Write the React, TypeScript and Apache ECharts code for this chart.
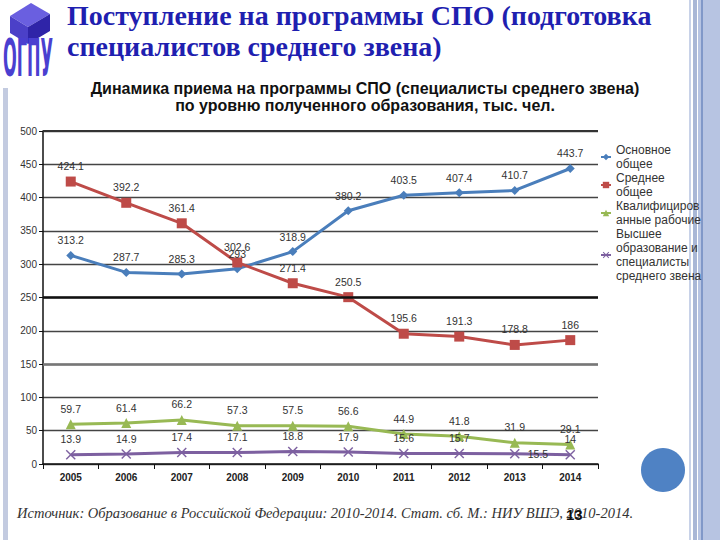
import React, { useEffect, useRef } from "react";
import * as echarts from "echarts";

const years = ["2005", "2006", "2007", "2008", "2009", "2010", "2011", "2012", "2013", "2014"];
const seriesNames = [
  "Основное общее",
  "Среднее общее",
  "Квалифицированные рабочие",
  "Высшее образование и специалисты среднего звена",
];
const legendLabels = [
  "Основное\nобщее",
  "Среднее\nобщее",
  "Квалифициров\nанные рабочие",
  "Высшее\nобразование и\nспециалисты\nсреднего звена",
];
const basicGeneral = [313.2, 287.7, 285.3, 293, 318.9, 380.2, 403.5, 407.4, 410.7, 443.7];
const secondaryGeneral = [424.1, 392.2, 361.4, 302.6, 271.4, 250.5, 195.6, 191.3, 178.8, 186];
const skilledWorkers = [59.7, 61.4, 66.2, 57.3, 57.5, 56.6, 44.9, 41.8, 31.9, 29.1];
const higherEducation = [13.9, 14.9, 17.4, 17.1, 18.8, 17.9, 15.6, 15.7, 15.5, 14];

const mainTitle = "Поступление на программы СПО (подготовка\nспециалистов среднего звена)";
const chartTitle =
  "Динамика приема на программы СПО (специалисты среднего звена)\nпо уровню полученного образования, тыс. чел.";
const sourceText =
  "Источник: Образование в Российской Федерации: 2010-2014. Стат. сб. М.: НИУ ВШЭ, 2010-2014.";
const pageNumber = "13";

const colors = ["#4a7ebb", "#be4b48", "#98b954", "#7d60a0"];
const xSymbol =
  "path://M0,1L1,0L5,4L9,0L10,1L6,5L10,9L9,10L5,6L1,10L0,9L4,5Z";

export default function App() {
  const ref = useRef<HTMLDivElement>(null);
  useEffect(() => {
    if (!ref.current) return;
    const chart = echarts.init(ref.current, undefined, { renderer: "svg" });
    const labelBase = {
      show: true,
      position: "top" as const,
      fontSize: 10.5,
      color: "#333",
      fontFamily: "Liberation Sans",
    };
    const mkSeries = (i: number, data: any[], symbol: string, size: number, extra: any = {}) => ({
      name: seriesNames[i],
      type: "line",
      data,
      symbol,
      symbolSize: size,
      lineStyle: { width: 3, color: colors[i] },
      itemStyle: { color: colors[i] },
      label: labelBase,
      z: 3,
      ...extra,
    });
    chart.setOption({
      animation: false,
      backgroundColor: "#ffffff",
      textStyle: { fontFamily: "Liberation Sans" },
      title: {
        text: chartTitle,
        left: 360,
        top: 75,
        textAlign: "center",
        textStyle: {
          fontSize: 16,
          fontWeight: "bold",
          color: "#111",
          lineHeight: 17,
          fontFamily: "Liberation Sans",
        },
      },
      legend: {
        orient: "vertical",
        left: 595,
        top: 138,
        itemGap: 0,
        itemWidth: 10,
        itemHeight: 8,
        data: seriesNames,
        formatter: (name: string) => legendLabels[seriesNames.indexOf(name)],
        textStyle: { fontSize: 12, lineHeight: 14, color: "#333", fontFamily: "Liberation Sans" },
      },
      grid: { left: 43, right: 122, top: 131, bottom: 76 },
      xAxis: {
        type: "category",
        data: years,
        boundaryGap: true,
        axisLine: { lineStyle: { color: "#111", width: 1.5 } },
        axisTick: { show: true, length: 5, lineStyle: { color: "#111" } },
        axisLabel: { fontSize: 10, fontWeight: "bold", color: "#222", margin: 8 },
      },
      yAxis: {
        type: "value",
        min: 0,
        max: 500,
        interval: 50,
        axisLine: { show: true, lineStyle: { color: "#111", width: 1.5 } },
        axisTick: { show: true, length: 4, lineStyle: { color: "#111" } },
        axisLabel: { fontSize: 10, color: "#333", margin: 6 },
        splitLine: { lineStyle: { color: "#444", width: 1.3 } },
      },
      series: [
        mkSeries(0, basicGeneral, "diamond", 9, {
          markLine: {
            silent: true,
            symbol: "none",
            label: { show: false },
            data: [
              { yAxis: 250, lineStyle: { color: "#111", width: 2.5, type: "solid" } },
              { yAxis: 150, lineStyle: { color: "#777", width: 2.5, type: "solid" } },
              { yAxis: 500, lineStyle: { color: "#333", width: 2, type: "solid" } },
            ],
          },
        }),
        mkSeries(1, secondaryGeneral, "rect", 10),
        mkSeries(2, skilledWorkers, "triangle", 10),
        mkSeries(
          3,
          higherEducation.map((v, i) =>
            i === 8 ? { value: v, label: { position: "right", distance: 8 } } : v
          ),
          xSymbol,
          10
        ),
      ],
      graphic: [
        // left stripe
        { type: "rect", shape: { x: 3, y: 88, width: 5, height: 452 }, style: { fill: "#c3cbe0" } },
        // right stripes
        { type: "rect", shape: { x: 689, y: 0, width: 2, height: 540 }, style: { fill: "#c8d2e8" } },
        { type: "rect", shape: { x: 693, y: 0, width: 4, height: 540 }, style: { fill: "#a9b7d6" } },
        { type: "rect", shape: { x: 698, y: 0, width: 22, height: 540 }, style: { fill: "#b7c4e2" } },
        { type: "rect", shape: { x: 701, y: 0, width: 2, height: 540 }, style: { fill: "#8198c8" } },
        // logo cube
        {
          type: "polygon",
          shape: { points: [[10, 16], [31, 3], [50, 14], [28, 27]] },
          style: { fill: "#6a5fe0" },
        },
        {
          type: "polygon",
          shape: { points: [[10, 16], [28, 27], [28, 44], [10, 33]] },
          style: { fill: "#4b40c8" },
        },
        {
          type: "polygon",
          shape: { points: [[28, 27], [50, 14], [50, 31], [28, 44]] },
          style: { fill: "#2f24a8" },
        },
        {
          type: "text",
          x: 3,
          y: 32,
          scaleY: 2.9,
          style: {
            text: "ОГПУ",
            fontSize: 18,
            fontWeight: "bold",
            fontFamily: "DejaVu Sans Condensed",
            fill: "#4a3fd0",
          },
        },
        // main title
        {
          type: "text",
          x: 67,
          y: 0,
          style: {
            text: mainTitle,
            fontSize: 28,
            lineHeight: 31,
            fontWeight: "bold",
            fontFamily: "Liberation Serif",
            fill: "#1f1fb0",
          },
        },
        // circle
        {
          type: "circle",
          shape: { cx: 663, cy: 470, r: 22 },
          style: { fill: "#4f82c4" },
        },
        // source
        {
          type: "text",
          x: 17,
          y: 505,
          style: {
            text: sourceText,
            fontSize: 14.5,
            fontStyle: "italic",
            fontFamily: "Liberation Serif",
            fill: "#333",
          },
        },
        {
          type: "text",
          x: 566,
          y: 507,
          style: {
            text: pageNumber,
            fontSize: 15,
            fontWeight: "bold",
            fontFamily: "Liberation Sans",
            fill: "#111",
          },
        },
      ],
    });
    return () => chart.dispose();
  }, []);
  return (
    <div
      ref={ref}
      style={{ position: "fixed", left: 0, top: 0, width: 720, height: 540 }}
    />
  );
}
